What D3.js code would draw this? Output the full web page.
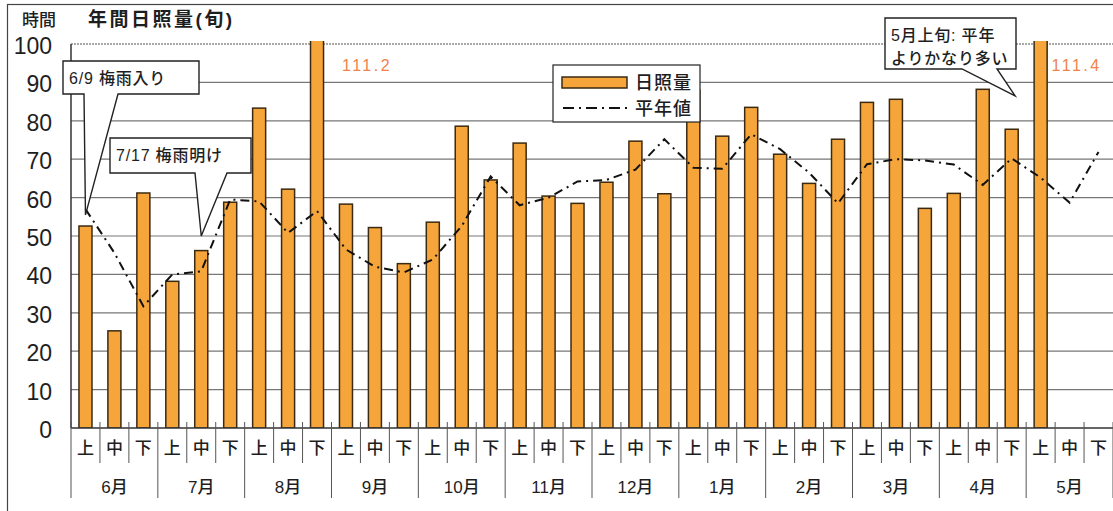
<!DOCTYPE html>
<html>
<head>
<meta charset="utf-8">
<script src="https://cdn.jsdelivr.net/npm/d3@7"></script>
<style>
  body { margin: 0; background: #fff; }
  svg { display: block; font-family: "Liberation Sans", "Noto Sans CJK JP", sans-serif; }
</style>
</head>
<body>
<div id="chart"></div>
<script>
// 年間日照量 (旬別) chart

var months = ["6月", "7月", "8月", "9月", "10月", "11月", "12月", "1月", "2月", "3月", "4月", "5月"];
var periods = ["上", "中", "下"];
var yTicks = [0, 10, 20, 30, 40, 50, 60, 70, 80, 90, 100];

// 日照量 (hours), null = no data yet
var sunshine = [52.6, 25.3, 61.2, 38.2, 46.2, 58.8, 83.3, 62.2, 111.2,
                58.3, 52.2, 42.8, 53.6, 78.6, 64.6, 74.2, 60.4, 58.5,
                64.0, 74.7, 61.0, 88.0, 76.0, 83.5, 71.3, 63.7, 75.2,
                84.8, 85.6, 57.2, 61.1, 88.2, 77.8, 111.4, null, null];

// 平年値
var normal = [57.0, 45.6, 31.7, 40.0, 40.8, 59.5, 59.0, 50.8, 56.5,
              46.5, 42.0, 40.5, 43.9, 52.6, 65.5, 58.0, 60.0, 64.2,
              64.6, 67.3, 75.2, 67.8, 67.5, 76.5, 72.6, 66.5, 58.5,
              68.7, 70.0, 69.7, 68.6, 63.3, 70.2, 65.2, 58.7, 71.9];

// callouts: index of 旬 and value the pointer aims at
var notes = [
  {lines: ["6/9 梅雨入り"], idx: 0, val: 55.5},
  {lines: ["7/17 梅雨明け"], idx: 4, val: 50},
  {lines: ["5月上旬: 平年", "よりかなり多い"], idx: 33, val: 86.5}
];

var W = 1113, H = 511;
var m = {left: 71, right: 0, top: 44, bottom: 83};
var ink = "#1e1e1e";

var svg = d3.select("#chart").append("svg")
    .attr("width", W)
    .attr("height", H);

var cats = [];
months.forEach(function(mo, i) {
  periods.forEach(function(p, j) { cats.push(i * 3 + j); });
});

var x = d3.scaleBand().domain(cats).range([m.left, W - m.right]).paddingInner(0.55).paddingOuter(0.275);
var y = d3.scaleLinear().domain([0, 100]).range([H - m.bottom, m.top]);
var step = x.step();
var bw = x.bandwidth();
function cx(i) { return x(i) + bw / 2; }

// outer frame
svg.append("rect")
    .attr("x", 7.5).attr("y", 4.5)
    .attr("width", W + 10).attr("height", H + 10)
    .attr("fill", "none").attr("stroke", "#444").attr("stroke-width", 1.2);

// titles
svg.append("text").attr("x", 22).attr("y", 26)
    .attr("font-size", 17).attr("font-weight", 500).attr("fill", ink).text("時間");
svg.append("text").attr("x", 88).attr("y", 26)
    .attr("font-size", 19).attr("font-weight", "bold").attr("letter-spacing", 2.5)
    .attr("fill", ink).text("年間日照量(旬)");

// gridlines
svg.append("g").selectAll("line").data(yTicks.slice(1, -1)).enter().append("line")
    .attr("x1", m.left).attr("x2", W)
    .attr("y1", function(d) { return y(d); }).attr("y2", function(d) { return y(d); })
    .attr("stroke", "#777").attr("stroke-width", 1.2);

svg.append("line")
    .attr("x1", m.left).attr("x2", W)
    .attr("y1", y(100)).attr("y2", y(100))
    .attr("stroke", "#555").attr("stroke-width", 1.2).attr("stroke-dasharray", "2,1");

// y labels
svg.append("g").selectAll("text").data(yTicks).enter().append("text")
    .attr("x", 52)
    .attr("y", function(d) { return y(d) + 10; })
    .attr("text-anchor", "end")
    .attr("font-size", 23)
    .attr("fill", ink)
    .text(function(d) { return d; });

// bars, clipped a bit above 100
svg.append("clipPath").attr("id", "plotclip").append("rect")
    .attr("x", m.left).attr("y", y(100) - 3)
    .attr("width", W - m.left).attr("height", y(0) - y(100) + 3);

svg.append("g").attr("clip-path", "url(#plotclip)")
  .selectAll("rect").data(cats.filter(function(i) { return sunshine[i] != null; })).enter().append("rect")
    .attr("x", function(i) { return x(i); })
    .attr("y", function(i) { return y(sunshine[i]); })
    .attr("width", bw)
    .attr("height", function(i) { return y(0) - y(sunshine[i]); })
    .attr("fill", "#F5A53A")
    .attr("stroke", "#3b2a12")
    .attr("stroke-width", 1.5);

// values above the top
svg.append("g").selectAll("text")
    .data(cats.filter(function(i) { return sunshine[i] > 100; })).enter().append("text")
    .attr("x", function(i) { return cx(i) + (i < 20 ? 50 : 36); })
    .attr("y", y(100) + 27)
    .attr("text-anchor", "middle")
    .attr("font-size", 16)
    .attr("letter-spacing", 2.5)
    .attr("fill", "#F0824A")
    .text(function(i) { return sunshine[i].toFixed(1); });

// normal line
var line = d3.line()
    .x(function(d, i) { return cx(i); })
    .y(function(d) { return y(d); });

svg.append("path")
    .datum(normal)
    .attr("d", line)
    .attr("fill", "none")
    .attr("stroke", "#111")
    .attr("stroke-width", 2)
    .attr("stroke-dasharray", "9,5,2,5");

// x axis
var y0 = y(0);
svg.append("line")
    .attr("x1", m.left).attr("x2", W).attr("y1", y0).attr("y2", y0)
    .attr("stroke", "#333").attr("stroke-width", 1.5);
svg.append("line")
    .attr("x1", m.left).attr("x2", m.left).attr("y1", y(100)).attr("y2", y0)
    .attr("stroke", "#333").attr("stroke-width", 1.5);

svg.append("g").selectAll("line").data(cats.concat([36])).enter().append("line")
    .attr("x1", function(i) { return m.left + i * step; })
    .attr("x2", function(i) { return m.left + i * step; })
    .attr("y1", y0 - 6)
    .attr("y2", function(i) { return i % 3 === 0 ? y0 + 70 : y0 + 35; })
    .attr("stroke", "#555").attr("stroke-width", 1);

svg.append("g").selectAll("text").data(cats).enter().append("text")
    .attr("x", function(i) { return cx(i); })
    .attr("y", y0 + 26)
    .attr("text-anchor", "middle")
    .attr("font-size", 17)
    .attr("font-weight", 500)
    .attr("fill", ink)
    .text(function(i) { return periods[i % 3]; });

svg.append("g").selectAll("text").data(months).enter().append("text")
    .attr("x", function(d, i) { return m.left + (i * 3 + 1.5) * step; })
    .attr("y", y0 + 65)
    .attr("text-anchor", "middle")
    .attr("font-size", 17)
    .attr("font-weight", 500)
    .attr("fill", ink)
    .text(function(d) { return d; });

// legend
var lg = svg.append("g").attr("transform", "translate(553,65)");
lg.append("rect").attr("width", 147).attr("height", 57)
    .attr("fill", "#fff").attr("stroke", "#222").attr("stroke-width", 1.2);
lg.append("rect").attr("x", 9).attr("y", 12).attr("width", 65).attr("height", 11)
    .attr("fill", "#F5A53A").attr("stroke", "#3b2a12").attr("stroke-width", 1.5);
lg.append("line").attr("x1", 10).attr("x2", 74).attr("y1", 43).attr("y2", 43)
    .attr("stroke", "#111").attr("stroke-width", 2).attr("stroke-dasharray", "11,5,2,5");
lg.append("text").attr("x", 82).attr("y", 24).attr("font-size", 18).attr("font-weight", 500)
    .attr("letter-spacing", 1).attr("fill", ink).text("日照量");
lg.append("text").attr("x", 82).attr("y", 50).attr("font-size", 18).attr("font-weight", 500)
    .attr("letter-spacing", 1).attr("fill", ink).text("平年値");

// callouts
var boxes = [
  {x: 63, y: 61, w: 136, h: 33, b1: 21, b2: 55},
  {x: 110, y: 138, w: 141, h: 35, b1: 85, b2: 117},
  {x: 885, y: 18, w: 131, h: 51, b1: 77, b2: 112}
];

notes.forEach(function(n, k) {
  var b = boxes[k];
  var tx = k === 2 ? x(n.idx) - 19 : cx(n.idx);
  var ty = y(n.val);
  var p = d3.path();
  p.moveTo(b.x, b.y);
  p.lineTo(b.x + b.w, b.y);
  p.lineTo(b.x + b.w, b.y + b.h);
  p.lineTo(b.x + b.b2, b.y + b.h);
  p.lineTo(tx, ty);
  p.lineTo(b.x + b.b1, b.y + b.h);
  p.lineTo(b.x, b.y + b.h);
  p.closePath();
  svg.append("path").attr("d", p.toString())
      .attr("fill", "#fff").attr("stroke", "#222").attr("stroke-width", 1.4);
  n.lines.forEach(function(t, j) {
    svg.append("text")
        .attr("x", b.x + 6)
        .attr("y", b.y + 23 + j * 23)
        .attr("font-size", 16)
        .attr("font-weight", 500)
        .attr("letter-spacing", 0.8)
        .attr("fill", ink)
        .text(t);
  });
});
</script>
</body>
</html>
